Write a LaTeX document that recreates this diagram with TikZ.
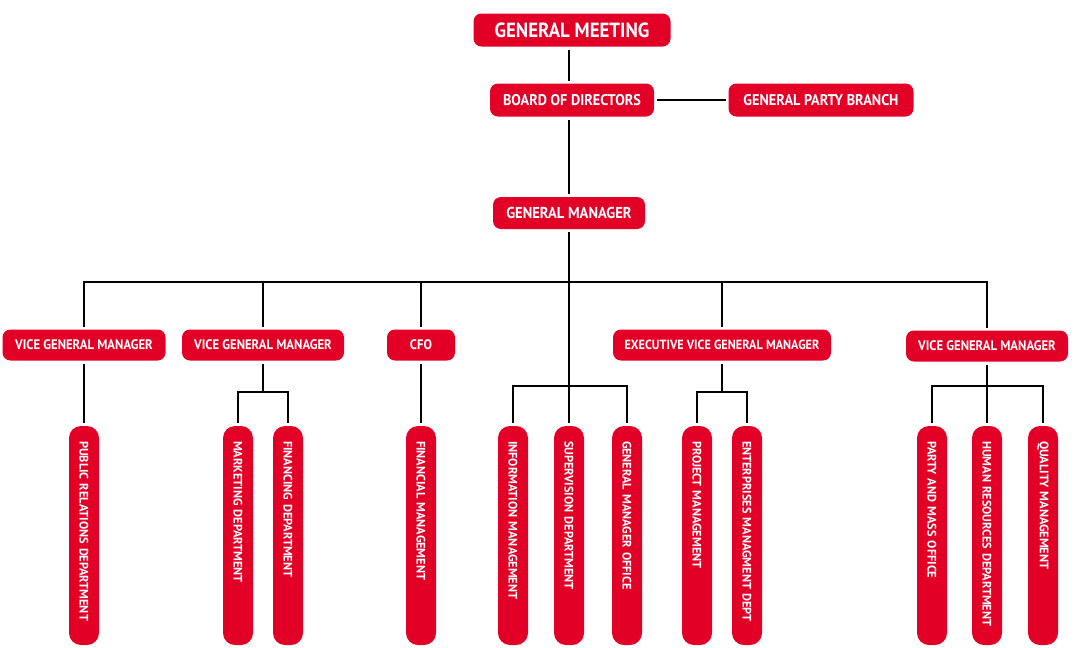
\documentclass[tikz,border=0pt]{standalone}
\usepackage{fontspec}
\setmainfont{PT Sans}
\newfontfamily\boxfont[FakeStretch=0.92]{PT Sans}
\usetikzlibrary{calc}
\definecolor{orgred}{RGB}{226,0,38}
\tikzset{
  box/.style={fill=orgred, text=white, rounded corners=8pt, inner sep=0pt, outer sep=3pt,
    minimum height=31pt, font=\boxfont\bfseries\fontsize{13.8}{15}\selectfont},
  topbox/.style={box, minimum height=33pt, font=\boxfont\bfseries\fontsize{20.5}{22}\selectfont},
  midbox/.style={box, minimum height=33pt, font=\boxfont\bfseries\fontsize{15.5}{17}\selectfont},
  vbox/.style={fill=orgred, text=white, rounded corners=12pt, rotate=-90, outer sep=3pt,
    minimum width=219pt, minimum height=30pt, text width=189pt, inner xsep=15pt, inner ysep=0pt,
    align=left, font=\bfseries\fontsize{12.3}{14}\selectfont},
  link/.style={draw=black, line width=2pt},
}
\begin{document}
\begin{tikzpicture}[x=1pt,y=-1pt]
  \useasboundingbox (0,0) rectangle (1077,648);
  \def\ya{392}  % split under the vice managers
  \def\yb{386}  % split under the trunk
  \coordinate (bus) at (569,282);
  % top of the chart
  \node[topbox, minimum width=197pt] (gmeet) at (572,30) {GENERAL MEETING};
  \node[midbox, minimum width=164pt] (bod) at (572,100) {BOARD OF DIRECTORS};
  \node[midbox, minimum width=185pt] (gpb) at (821,100) {GENERAL PARTY BRANCH};
  \node[box, minimum height=32pt, minimum width=152pt, font=\boxfont\bfseries\fontsize{15.8}{17}\selectfont] (gm) at (569,213) {GENERAL MANAGER};
  % managers
  \node[box, minimum width=163pt] (vgm1) at (84,345) {VICE GENERAL MANAGER};
  \node[box, minimum width=162pt] (vgm2) at (263,345) {VICE GENERAL MANAGER};
  \node[box, minimum width=68pt] (cfo) at (421,345) {CFO};
  \node[box, minimum width=218pt, font=\boxfont\bfseries\fontsize{13.3}{15}\selectfont] (evgm) at (722,345) {EXECUTIVE VICE GENERAL MANAGER};
  \node[box, minimum width=162pt] (vgm5) at (987,346) {VICE GENERAL MANAGER};
  % departments
  \foreach \x/\n/\t in {84/pr/PUBLIC RELATIONS DEPARTMENT, 238/mkt/MARKETING DEPARTMENT,
      288/fin/FINANCING DEPARTMENT, 421/fm/FINANCIAL MANAGEMENT, 513/info/INFORMATION MANAGEMENT,
      569/sup/SUPERVISION DEPARTMENT, 627/gmo/GENERAL MANAGER OFFICE, 697/proj/PROJECT MANAGEMENT,
      747/ent/ENTERPRISES MANAGMENT DEPT, 932/party/PARTY AND MASS OFFICE,
      987/hr/HUMAN RESOURCES DEPARTMENT, 1043/qual/QUALITY MANAGEMENT} {
    \node[vbox] (\n) at (\x,535.5) {\t};
  }
  %
  \draw[link] (gm.north |- gmeet.south) -- (gm.north |- bod.north);
  \draw[link] (gm.north |- bod.south) -- (gm.north);
  \draw[link] (bod.east) -- (gpb.west);
  \draw[link] (gm.south) -- (sup.west);
  \draw[link] (vgm1.north) |- (bus) -| (vgm5.north);
  \foreach \n in {vgm2,cfo,evgm} {
    \draw[link] (\n.north |- bus) -- (\n.north);
  }
  \draw[link] (vgm1.south) -- (pr.west);
  \draw[link] (cfo.south) -- (fm.west);
  \draw[link] (vgm5.south) -- (hr.west);
  \draw[link] (vgm2.south) -- (vgm2.south |- 0,\ya);
  \draw[link] (mkt.west) |- (vgm2.south |- 0,\ya) -| (fin.west);
  \draw[link] (evgm.south) -- (evgm.south |- 0,\ya);
  \draw[link] (proj.west) |- (evgm.south |- 0,\ya) -| (ent.west);
  \draw[link] (info.west) |- (sup.west |- 0,\yb) -| (gmo.west);
  \draw[link] (party.west) |- (hr.west |- 0,\yb) -| (qual.west);
\end{tikzpicture}
\end{document}
